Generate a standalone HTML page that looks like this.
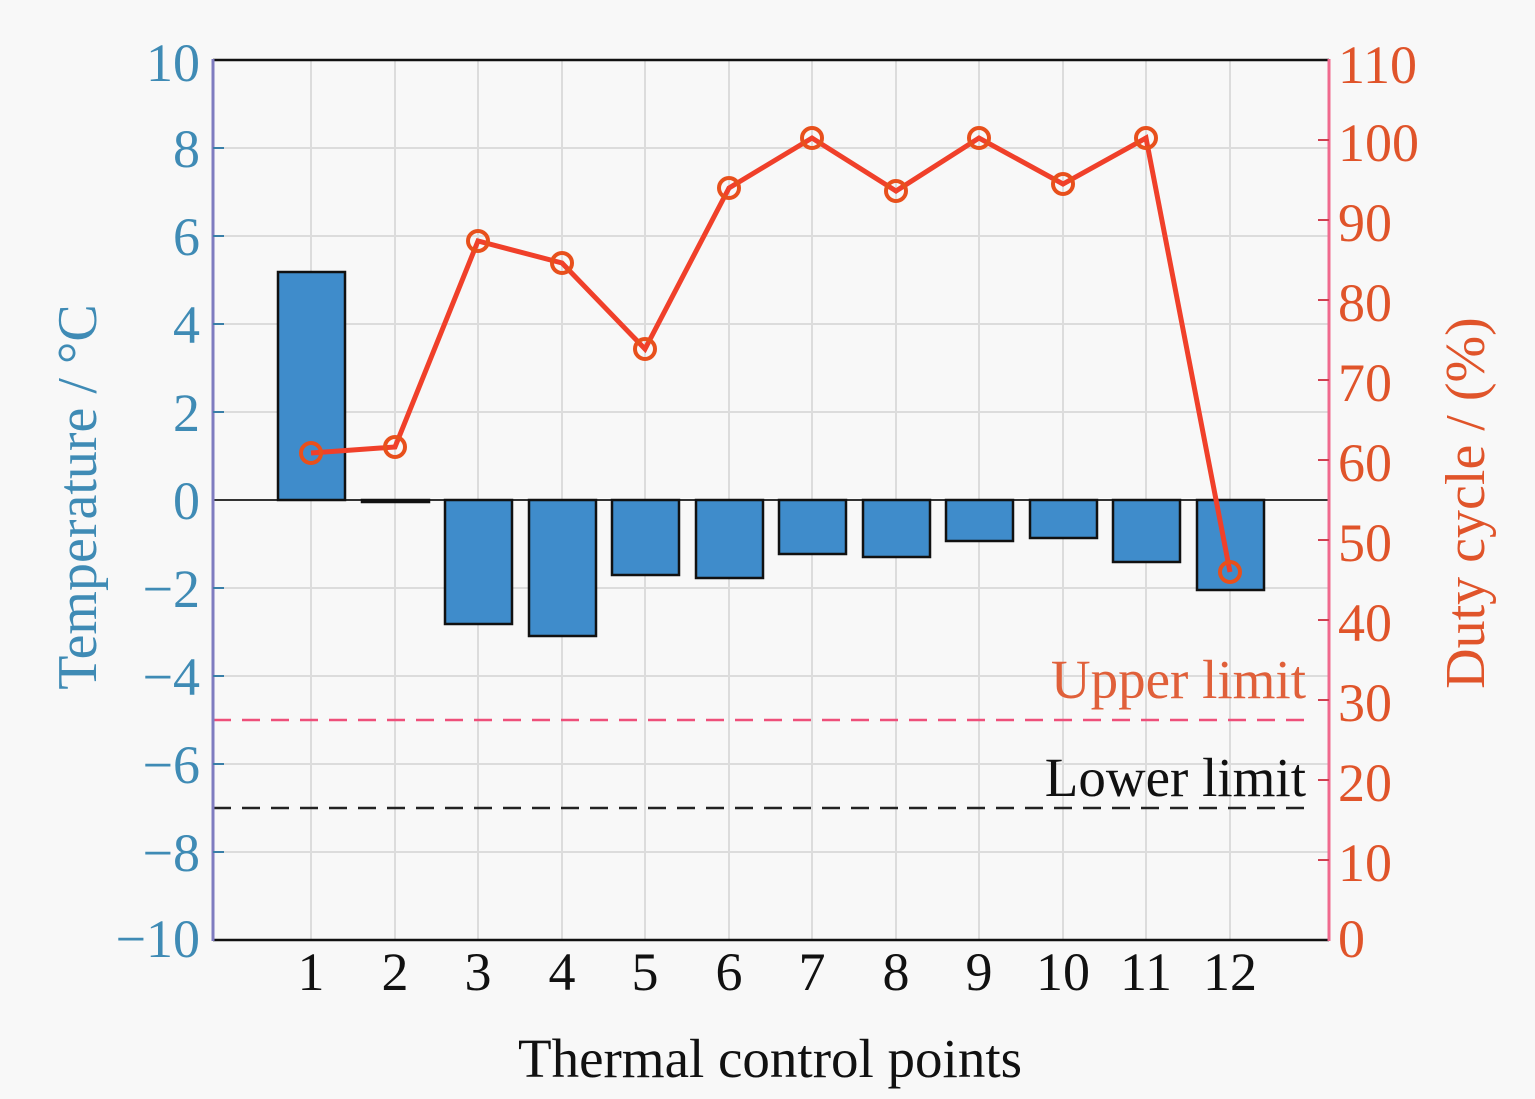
<!DOCTYPE html>
<html><head><meta charset="utf-8"><style>
html,body{margin:0;padding:0;background:#f8f8f8;}
svg{display:block;}
text{font-family:"Liberation Serif",serif;}
</style></head><body>
<svg width="1535" height="1099" viewBox="0 0 1535 1099" xmlns="http://www.w3.org/2000/svg">
<rect width="1535" height="1099" fill="#f8f8f8"/>
<g stroke="#dcdcdc" stroke-width="2">
<line x1="311" y1="60" x2="311" y2="940"/><line x1="395" y1="60" x2="395" y2="940"/><line x1="478" y1="60" x2="478" y2="940"/><line x1="562" y1="60" x2="562" y2="940"/><line x1="645" y1="60" x2="645" y2="940"/><line x1="729" y1="60" x2="729" y2="940"/><line x1="812" y1="60" x2="812" y2="940"/><line x1="896" y1="60" x2="896" y2="940"/><line x1="979" y1="60" x2="979" y2="940"/><line x1="1063" y1="60" x2="1063" y2="940"/><line x1="1146" y1="60" x2="1146" y2="940"/><line x1="1230" y1="60" x2="1230" y2="940"/>
<line x1="213" y1="148" x2="1329" y2="148"/><line x1="213" y1="236" x2="1329" y2="236"/><line x1="213" y1="324" x2="1329" y2="324"/><line x1="213" y1="412" x2="1329" y2="412"/><line x1="213" y1="588" x2="1329" y2="588"/><line x1="213" y1="676" x2="1329" y2="676"/><line x1="213" y1="764" x2="1329" y2="764"/><line x1="213" y1="852" x2="1329" y2="852"/>
</g>
<line x1="213" y1="500" x2="1329" y2="500" stroke="#333" stroke-width="2"/>
<g fill="#3f8ccb" stroke="#111" stroke-width="2.5">
<rect x="278" y="272" width="67" height="228"/>
<rect x="362" y="500" width="67" height="2"/>
<rect x="445" y="500" width="67" height="124"/>
<rect x="529" y="500" width="67" height="136"/>
<rect x="612" y="500" width="67" height="75"/>
<rect x="696" y="500" width="67" height="78"/>
<rect x="779" y="500" width="67" height="54"/>
<rect x="863" y="500" width="67" height="57"/>
<rect x="946" y="500" width="67" height="41"/>
<rect x="1030" y="500" width="67" height="38"/>
<rect x="1113" y="500" width="67" height="62"/>
<rect x="1197" y="500" width="67" height="90"/>
</g>
<line x1="213" y1="720" x2="1310" y2="720" stroke="#ee4f7a" stroke-width="2.5" stroke-dasharray="18,11"/>
<line x1="213" y1="808" x2="1310" y2="808" stroke="#222" stroke-width="2.5" stroke-dasharray="18,11"/>
<text x="1306" y="698" font-size="55" fill="#e0603a" text-anchor="end">Upper limit</text>
<text x="1306" y="796" font-size="55" fill="#111" text-anchor="end">Lower limit</text>
<polyline fill="none" stroke="#f0402a" stroke-width="5" points="311,453 395,447 478,241 562,263 645,349 729,188 812,138 896,191 979,138 1063,184 1146,138 1230,572"/>
<g fill="none" stroke="#e8501c" stroke-width="4">
<circle cx="311" cy="453" r="10"/><circle cx="395" cy="447" r="10"/><circle cx="478" cy="241" r="10"/><circle cx="562" cy="263" r="10"/><circle cx="645" cy="349" r="10"/><circle cx="729" cy="188" r="10"/><circle cx="812" cy="138" r="10"/><circle cx="896" cy="191" r="10"/><circle cx="979" cy="138" r="10"/><circle cx="1063" cy="184" r="10"/><circle cx="1146" cy="138" r="10"/><circle cx="1230" cy="572" r="10"/>
</g>
<line x1="213" y1="60" x2="1329" y2="60" stroke="#111" stroke-width="2.5"/>
<line x1="213" y1="940" x2="1329" y2="940" stroke="#111" stroke-width="2.5"/>
<line x1="213" y1="59" x2="213" y2="941" stroke="#7f7cc0" stroke-width="3"/>
<line x1="1329" y1="59" x2="1329" y2="941" stroke="#f06a8e" stroke-width="3"/>
<g stroke="#3a7fa8" stroke-width="2">
<line x1="213" y1="148" x2="224" y2="148"/><line x1="213" y1="236" x2="224" y2="236"/><line x1="213" y1="324" x2="224" y2="324"/><line x1="213" y1="412" x2="224" y2="412"/><line x1="213" y1="588" x2="224" y2="588"/><line x1="213" y1="676" x2="224" y2="676"/><line x1="213" y1="764" x2="224" y2="764"/><line x1="213" y1="852" x2="224" y2="852"/>
</g>
<g stroke="#d04050" stroke-width="2">
<line x1="1318" y1="140" x2="1329" y2="140"/><line x1="1318" y1="220" x2="1329" y2="220"/><line x1="1318" y1="300" x2="1329" y2="300"/><line x1="1318" y1="380" x2="1329" y2="380"/><line x1="1318" y1="460" x2="1329" y2="460"/><line x1="1318" y1="540" x2="1329" y2="540"/><line x1="1318" y1="620" x2="1329" y2="620"/><line x1="1318" y1="700" x2="1329" y2="700"/><line x1="1318" y1="780" x2="1329" y2="780"/><line x1="1318" y1="860" x2="1329" y2="860"/>
</g>
<g font-size="54" fill="#3f8bb5" text-anchor="end">
<text x="200" y="81">10</text><text x="200" y="167">8</text><text x="200" y="255">6</text><text x="200" y="343">4</text><text x="200" y="431">2</text><text x="200" y="519">0</text><text x="200" y="607">−2</text><text x="200" y="695">−4</text><text x="200" y="783">−6</text><text x="200" y="871">−8</text><text x="200" y="957">−10</text>
</g>
<g font-size="54" fill="#e0542a" text-anchor="start">
<text x="1338" y="83">110</text><text x="1338" y="161">100</text><text x="1338" y="241">90</text><text x="1338" y="321">80</text><text x="1338" y="401">70</text><text x="1338" y="481">60</text><text x="1338" y="561">50</text><text x="1338" y="641">40</text><text x="1338" y="721">30</text><text x="1338" y="801">20</text><text x="1338" y="881">10</text><text x="1338" y="957">0</text>
</g>
<g font-size="54" fill="#111" text-anchor="middle">
<text x="311" y="990">1</text><text x="395" y="990">2</text><text x="478" y="990">3</text><text x="562" y="990">4</text><text x="645" y="990">5</text><text x="729" y="990">6</text><text x="812" y="990">7</text><text x="896" y="990">8</text><text x="979" y="990">9</text><text x="1063" y="990">10</text><text x="1146" y="990">11</text><text x="1230" y="990">12</text>
</g>
<text x="770" y="1077" font-size="55" fill="#111" text-anchor="middle">Thermal control points</text>
<text transform="translate(96,497) rotate(-90)" font-size="56" fill="#3f8bb5" text-anchor="middle">Temperature / °C</text>
<text transform="translate(1484,503) rotate(-90)" font-size="56" fill="#e0542a" text-anchor="middle">Duty cycle / (%)</text>
</svg>
</body></html>
